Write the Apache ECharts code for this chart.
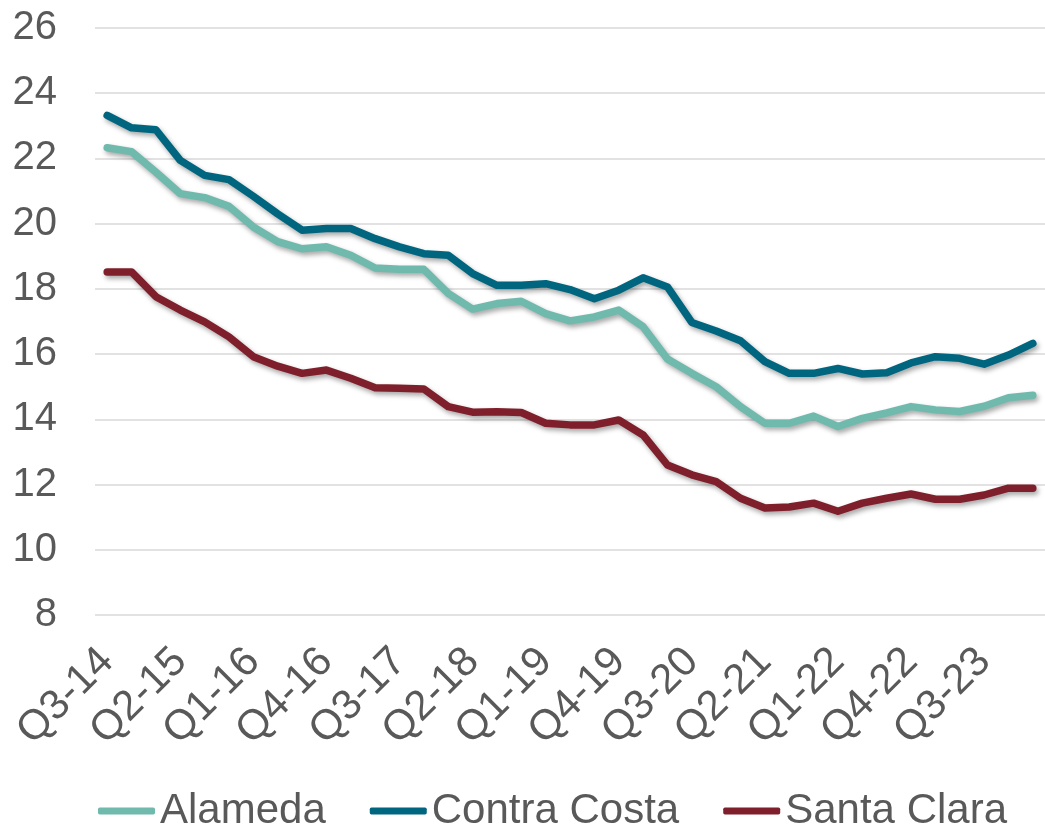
<!DOCTYPE html>
<html>
<head>
<meta charset="utf-8">
<script src="https://cdn.jsdelivr.net/npm/echarts@6/dist/echarts.min.js"></script>
<style>
html,body{margin:0;padding:0;background:#fff;}
#chart{width:1045px;height:825px;}
</style>
</head>
<body>
<div id="chart"></div>
<script>
const categories = ["Q3-14","Q4-14","Q1-15","Q2-15","Q3-15","Q4-15","Q1-16","Q2-16","Q3-16","Q4-16","Q1-17","Q2-17","Q3-17","Q4-17","Q1-18","Q2-18","Q3-18","Q4-18","Q1-19","Q2-19","Q3-19","Q4-19","Q1-20","Q2-20","Q3-20","Q4-20","Q1-21","Q2-21","Q3-21","Q4-21","Q1-22","Q2-22","Q3-22","Q4-22","Q1-23","Q2-23","Q3-23","Q4-23","Q1-24"];
const alameda = [22.33,22.21,21.58,20.92,20.80,20.53,19.90,19.45,19.23,19.29,19.03,18.64,18.60,18.60,17.86,17.38,17.55,17.62,17.24,17.02,17.14,17.35,16.84,15.85,15.41,15.00,14.39,13.88,13.88,14.10,13.78,14.03,14.20,14.39,14.29,14.24,14.40,14.66,14.74];
const contraCosta = [23.32,22.94,22.88,21.94,21.48,21.35,20.84,20.30,19.80,19.85,19.85,19.54,19.29,19.08,19.03,18.47,18.11,18.11,18.16,17.98,17.70,17.96,18.34,18.06,16.97,16.71,16.41,15.77,15.41,15.41,15.56,15.39,15.43,15.73,15.92,15.87,15.69,15.97,16.33];
const santaClara = [18.52,18.52,17.76,17.35,16.99,16.53,15.92,15.63,15.41,15.51,15.26,14.97,14.95,14.93,14.39,14.22,14.23,14.21,13.88,13.83,13.83,13.98,13.52,12.60,12.30,12.09,11.58,11.28,11.31,11.43,11.18,11.43,11.58,11.71,11.55,11.55,11.68,11.89,11.89];
const seriesNames = ["Alameda","Contra Costa","Santa Clara"];
const colors = ["#70BAAD","#00667F","#7F1F2B"];

const chart = echarts.init(document.getElementById('chart'), null, {renderer:'canvas'});
const font = "'Liberation Sans', Arial, sans-serif";
function mk(name, data, color){
  return {
    name, type:'line', data, symbol:'none', smooth:false,
    lineStyle:{width:7.5, color, cap:'round', join:'round',
      shadowColor:'rgba(0,0,0,0.35)', shadowBlur:5, shadowOffsetX:2, shadowOffsetY:3},
    itemStyle:{color}
  };
}
chart.setOption({
  animation:false,
  backgroundColor:'#fff',
  grid:{left:95, top:28, width:955, bottom:210, containLabel:false},
  xAxis:{
    type:'category', data:categories, boundaryGap:true,
    axisLine:{show:false}, axisTick:{show:false},
    axisLabel:{interval:2, rotate:45, margin:40, color:'#595959', fontSize:42, fontFamily:font}
  },
  yAxis:{
    type:'value', min:8, max:26, interval:2,
    axisLine:{show:false}, axisTick:{show:false},
    axisLabel:{margin:38, color:'#595959', fontSize:40, fontFamily:font},
    splitLine:{lineStyle:{color:'#D9D9D9', width:1.5}}
  },
  legend:{
    data:seriesNames, left:93, top:785, itemWidth:57, itemHeight:7, itemGap:44,
    icon:'roundRect',
    textStyle:{color:'#595959', fontSize:42, fontFamily:font}
  },
  series:[mk(seriesNames[0], alameda, colors[0]), mk(seriesNames[1], contraCosta, colors[1]), mk(seriesNames[2], santaClara, colors[2])]
});
</script>
</body>
</html>
